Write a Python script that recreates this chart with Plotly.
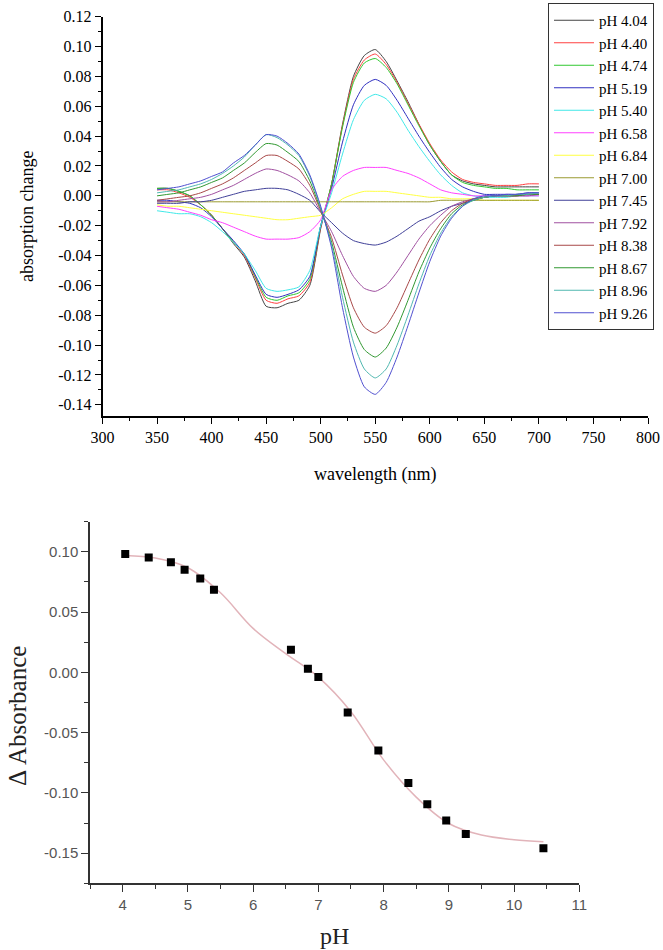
import plotly.graph_objects as go

W, H = 663, 950

# ---------------- top chart data ----------------
wavelength = [350, 360, 370, 380, 390, 400, 410, 420, 430, 440, 450, 460,
              470, 480, 490, 500, 510, 520, 530, 540, 550, 560, 570, 580,
              590, 600, 610, 620, 630, 640, 650, 660, 670, 680, 690, 700]

ph_labels = ["pH 4.04", "pH 4.40", "pH 4.74", "pH 5.19", "pH 5.40", "pH 6.58", "pH 6.84",
             "pH 7.00", "pH 7.45", "pH 7.92", "pH 8.38", "pH 8.67", "pH 8.96", "pH 9.26"]

spec_404 = [0.005, 0.005, 0.003, 0.000, -0.006, -0.013, -0.022, -0.032, -0.041, -0.057, -0.074, -0.075,
            -0.072, -0.070, -0.060, -0.022, 0.008, 0.048, 0.080, 0.094, 0.098, 0.090, 0.077, 0.063,
            0.048, 0.034, 0.023, 0.014, 0.010, 0.008, 0.007, 0.006, 0.006, 0.006, 0.006, 0.006]
spec_440 = [0.004, 0.004, 0.002, -0.001, -0.006, -0.013, -0.022, -0.031, -0.040, -0.055, -0.070, -0.072,
            -0.069, -0.067, -0.058, -0.021, 0.008, 0.047, 0.078, 0.091, 0.095, 0.088, 0.076, 0.062,
            0.048, 0.035, 0.024, 0.016, 0.011, 0.009, 0.008, 0.007, 0.007, 0.007, 0.008, 0.008]
spec_474 = [0.005, 0.005, 0.003, 0.000, -0.006, -0.013, -0.022, -0.031, -0.039, -0.054, -0.068, -0.070,
            -0.067, -0.065, -0.056, -0.020, 0.008, 0.046, 0.076, 0.089, 0.092, 0.086, 0.075, 0.061,
            0.047, 0.034, 0.023, 0.014, 0.009, 0.007, 0.006, 0.005, 0.005, 0.004, 0.004, 0.004]
spec_519 = [-0.003, -0.003, -0.004, -0.005, -0.008, -0.014, -0.022, -0.030, -0.039, -0.053, -0.066, -0.068,
            -0.066, -0.063, -0.054, -0.020, 0.005, 0.036, 0.061, 0.074, 0.078, 0.074, 0.064, 0.052,
            0.040, 0.029, 0.019, 0.011, 0.006, 0.003, 0.001, 0.001, 0.001, 0.001, 0.002, 0.002]
spec_540 = [-0.010, -0.011, -0.012, -0.012, -0.014, -0.018, -0.024, -0.031, -0.039, -0.050, -0.062, -0.064,
            -0.063, -0.061, -0.050, -0.020, 0.002, 0.028, 0.051, 0.064, 0.068, 0.065, 0.056, 0.044,
            0.033, 0.023, 0.014, 0.007, 0.002, 0.000, -0.001, -0.001, -0.001, 0.000, 0.000, 0.000]
spec_658 = [-0.007, -0.008, -0.009, -0.011, -0.013, -0.016, -0.018, -0.021, -0.024, -0.027, -0.029, -0.029,
            -0.029, -0.028, -0.024, -0.016, 0.004, 0.013, 0.017, 0.019, 0.019, 0.019, 0.017, 0.015,
            0.012, 0.008, 0.004, 0.002, 0.001, 0.000, 0.000, 0.000, 0.000, 0.000, 0.000, 0.000]
spec_684 = [-0.006, -0.007, -0.007, -0.008, -0.009, -0.010, -0.011, -0.012, -0.013, -0.014, -0.015, -0.016,
            -0.016, -0.015, -0.014, -0.013, -0.008, -0.002, 0.001, 0.003, 0.003, 0.003, 0.002, 0.001,
            0.000, -0.001, -0.001, -0.002, -0.002, -0.002, -0.003, -0.003, -0.003, -0.003, -0.003, -0.003]
spec_700 = [-0.004, -0.004, -0.004, -0.004, -0.004, -0.004, -0.004, -0.004, -0.004, -0.004, -0.004, -0.004,
            -0.004, -0.004, -0.004, -0.004, -0.004, -0.004, -0.004, -0.004, -0.004, -0.004, -0.004, -0.004,
            -0.004, -0.004, -0.003, -0.003, -0.003, -0.003, -0.003, -0.003, -0.003, -0.003, -0.003, -0.003]
spec_745 = [-0.005, -0.005, -0.005, -0.004, -0.004, -0.003, -0.001, 0.001, 0.003, 0.004, 0.005, 0.005,
            0.004, 0.001, -0.003, -0.011, -0.018, -0.025, -0.030, -0.032, -0.033, -0.031, -0.027, -0.022,
            -0.017, -0.014, -0.010, -0.007, -0.005, -0.003, -0.001, 0.000, 0.000, 0.001, 0.001, 0.001]
spec_792 = [-0.004, -0.004, -0.003, -0.002, -0.001, 0.001, 0.004, 0.007, 0.011, 0.015, 0.018, 0.017,
            0.014, 0.010, 0.002, -0.011, -0.024, -0.040, -0.054, -0.062, -0.064, -0.060, -0.051, -0.040,
            -0.029, -0.020, -0.013, -0.007, -0.004, -0.002, -0.001, 0.000, 0.000, 0.000, 0.000, 0.001]
spec_838 = [-0.003, -0.002, -0.001, 0.000, 0.002, 0.005, 0.008, 0.012, 0.017, 0.022, 0.027, 0.027,
            0.023, 0.018, 0.007, -0.010, -0.028, -0.053, -0.075, -0.088, -0.092, -0.087, -0.075, -0.059,
            -0.043, -0.029, -0.018, -0.010, -0.005, -0.002, -0.001, 0.000, 0.000, 0.000, 0.001, 0.001]
spec_867 = [0.000, 0.001, 0.002, 0.004, 0.006, 0.009, 0.012, 0.017, 0.022, 0.029, 0.035, 0.034,
            0.029, 0.023, 0.010, -0.009, -0.031, -0.061, -0.088, -0.103, -0.108, -0.102, -0.088, -0.070,
            -0.051, -0.035, -0.022, -0.012, -0.006, -0.003, -0.001, 0.000, 0.000, 0.000, 0.001, 0.001]
spec_896 = [0.002, 0.003, 0.004, 0.006, 0.008, 0.011, 0.015, 0.020, 0.026, 0.034, 0.041, 0.039,
            0.034, 0.027, 0.013, -0.008, -0.033, -0.068, -0.098, -0.116, -0.122, -0.116, -0.100, -0.080,
            -0.059, -0.040, -0.025, -0.014, -0.007, -0.003, -0.001, 0.000, 0.000, 0.001, 0.001, 0.002]
spec_926 = [0.004, 0.005, 0.006, 0.008, 0.010, 0.013, 0.016, 0.022, 0.027, 0.034, 0.041, 0.040,
            0.035, 0.028, 0.014, -0.007, -0.035, -0.075, -0.108, -0.128, -0.133, -0.125, -0.108, -0.087,
            -0.065, -0.044, -0.027, -0.015, -0.007, -0.002, 0.000, 0.000, 0.001, 0.001, 0.002, 0.002]

spectra = [spec_404, spec_440, spec_474, spec_519, spec_540, spec_658, spec_684,
           spec_700, spec_745, spec_792, spec_838, spec_867, spec_896, spec_926]

line_colors = ["#444444", "#ff4040", "#30c830", "#3030c0", "#40e8e8", "#ff40ff", "#ffff40",
               "#9a9a30", "#404098", "#a050a0", "#a84848", "#309830", "#50b8b0", "#5050d0"]

top_ytick_vals = [-0.14, -0.12, -0.10, -0.08, -0.06, -0.04, -0.02, 0.00, 0.02, 0.04, 0.06, 0.08, 0.10, 0.12]
top_ytick_text = ["-0.14", "-0.12", "-0.10", "-0.08", "-0.06", "-0.04", "-0.02", "0.00",
                  "0.02", "0.04", "0.06", "0.08", "0.10", "0.12"]

# ---------------- bottom chart data ----------------
ph_points = [4.04, 4.40, 4.74, 4.95, 5.19, 5.40, 6.58, 6.84, 7.00, 7.45, 7.92, 8.38, 8.67, 8.96, 9.26, 10.45]
dA_points = [0.0983, 0.0954, 0.0913, 0.0852, 0.0779, 0.0686, 0.0188, 0.0031, -0.0039, -0.0332,
             -0.0649, -0.0918, -0.1094, -0.1230, -0.1341, -0.1460]

fit_ph = [4.04, 4.5, 5.0, 5.5, 6.0, 6.5, 7.0, 7.5, 8.0, 8.5, 9.0, 9.5, 10.0, 10.45]
fit_dA = [0.0970, 0.0948, 0.0868, 0.0660, 0.0365, 0.0155, -0.0039, -0.0326, -0.0726, -0.1035,
          -0.1254, -0.1350, -0.1388, -0.1405]

bot_ytick_vals = [-0.15, -0.10, -0.05, 0.00, 0.05, 0.10]
bot_ytick_text = ["-0.15", "-0.10", "-0.05", "0.00", "0.05", "0.10"]

SERIF = "Liberation Serif, Times New Roman, serif"
SANS = "Liberation Sans, Arial, sans-serif"

fig = go.Figure()

for lbl, ys, col in zip(ph_labels, spectra, line_colors):
    fig.add_trace(go.Scatter(x=wavelength, y=ys, mode="lines", name=lbl,
                             line=dict(color=col, width=1, shape="spline", smoothing=0.6),
                             xaxis="x", yaxis="y"))

fig.add_trace(go.Scatter(x=fit_ph, y=fit_dA, mode="lines", showlegend=False,
                         line=dict(color="#e2b4ba", width=1.5, shape="spline", smoothing=1.0),
                         xaxis="x2", yaxis="y2"))
fig.add_trace(go.Scatter(x=ph_points, y=dA_points, mode="markers", showlegend=False,
                         marker=dict(symbol="square", size=8, color="black"),
                         xaxis="x2", yaxis="y2"))


def px_x(a, b):
    return [a / W, b / W]


def px_y(top, bottom):
    return [1 - bottom / H, 1 - top / H]


fig.update_layout(
    width=W, height=H,
    margin=dict(l=0, r=0, t=0, b=0),
    paper_bgcolor="white", plot_bgcolor="white",
    showlegend=True,
    legend=dict(x=548 / W, y=1 - 3 / H, xanchor="left", yanchor="top",
                bgcolor="white", bordercolor="#333333", borderwidth=1,
                font=dict(family=SERIF, size=15, color="black"),
                tracegroupgap=0, itemwidth=40),
    xaxis=dict(domain=px_x(102.5, 648), range=[300, 800], anchor="y",
               tickmode="linear", tick0=300, dtick=50,
               ticks="outside", ticklen=6, tickwidth=1.2, tickcolor="black",
               minor=dict(ticks="outside", ticklen=3, tickwidth=1, tickcolor="black", dtick=25, tick0=300),
               showline=True, linecolor="black", linewidth=1.5,
               showgrid=False, zeroline=False, automargin=False,
               tickfont=dict(family=SERIF, size=16, color="black"),
               title=dict(text="wavelength (nm)", font=dict(family=SERIF, size=18, color="black"),
                          standoff=22)),
    yaxis=dict(domain=px_y(16.7, 416), range=[-0.1475, 0.12], anchor="x",
               tickmode="array", tickvals=top_ytick_vals, ticktext=top_ytick_text,
               ticks="outside", ticklen=6, tickwidth=1.2, tickcolor="black",
               minor=dict(ticks="outside", ticklen=3, tickwidth=1, tickcolor="black", dtick=0.01, tick0=0),
               showline=True, linecolor="black", linewidth=1.5,
               showgrid=False, zeroline=False, automargin=False,
               tickfont=dict(family=SERIF, size=16, color="black"),
               title=dict(text="absorption change", font=dict(family=SERIF, size=18, color="black"),
                          standoff=20)),
    xaxis2=dict(domain=px_x(90, 579.3), range=[3.5, 11], anchor="y2",
                tickmode="linear", tick0=4, dtick=1,
                ticks="outside", ticklen=7, tickwidth=1.2, tickcolor="#333333",
                minor=dict(ticks="outside", ticklen=4, tickwidth=1, tickcolor="#333333", dtick=0.5, tick0=3.5),
                showline=True, linecolor="#333333", linewidth=1.5,
                showgrid=False, zeroline=False, automargin=False,
                tickfont=dict(family=SANS, size=15, color="#555555"),
                title=dict(text="pH", font=dict(family=SERIF, size=24, color="#222222"), standoff=15)),
    yaxis2=dict(domain=px_y(521.7, 883.3), range=[-0.175, 0.125], anchor="x2",
                tickmode="array", tickvals=bot_ytick_vals, ticktext=bot_ytick_text,
                ticks="outside", ticklen=7, tickwidth=1.2, tickcolor="#333333",
                minor=dict(ticks="outside", ticklen=4, tickwidth=1, tickcolor="#333333", dtick=0.025, tick0=0),
                showline=True, linecolor="#333333", linewidth=1.5,
                showgrid=False, zeroline=False, automargin=False,
                tickfont=dict(family=SANS, size=15, color="#555555")),
    annotations=[dict(text="Δ Absorbance", xref="paper", yref="paper",
                      x=17 / W, y=1 - 716 / H, xanchor="center", yanchor="middle",
                      textangle=-90, showarrow=False,
                      font=dict(family=SERIF, size=25, color="#222222"))],
)

fig.write_html("out.html",
               config={"displayModeBar": False},
               post_script="document.body.style.margin='0';document.body.style.overflow='hidden';")
